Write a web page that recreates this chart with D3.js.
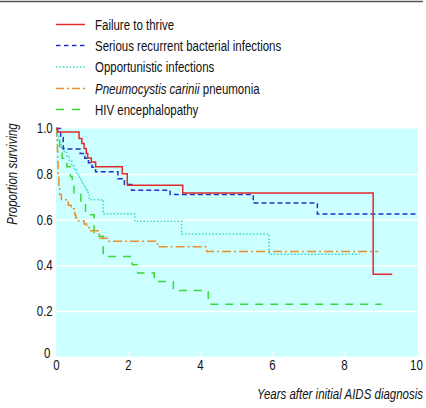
<!DOCTYPE html>
<html>
<head>
<meta charset="utf-8">
<script src="https://cdn.jsdelivr.net/npm/d3@7"></script>
<style>
html,body{margin:0;padding:0;background:#fff;}
svg{display:block;}
text{font-family:"Liberation Sans Narrow","Arial Narrow","Liberation Sans",Arial,sans-serif;font-size:14px;fill:#111;}
</style>
</head>
<body>
<svg id="chart" width="426" height="408"></svg>
<script>
// Series names (legend order)
const seriesNames = ["Failure to thrive","Serious recurrent bacterial infections","Opportunistic infections","Pneumocystis carinii pneumonia","HIV encephalopathy"];
// Kaplan-Meier steps: [time (years), survival after step]
const failureToThrive = [[0,1.0],[0.05,0.985],[0.64,0.956],[0.72,0.934],[0.78,0.912],[0.84,0.89],[0.88,0.871],[0.98,0.853],[1.1,0.832],[1.84,0.802],[1.98,0.751],[3.52,0.717],[8.81,0.361]];
const failureEnd = 9.34;
const bacterial = [[0,1.0],[0.13,0.96],[0.2,0.91],[0.67,0.89],[0.8,0.87],[0.9,0.85],[1.0,0.83],[1.1,0.81],[1.72,0.78],[1.9,0.754],[2.1,0.729],[3.17,0.71],[5.48,0.673],[7.26,0.625]];
const bacterialEnd = 10;
const opportunistic = [[0,1.0],[0.03,0.97],[0.08,0.95],[0.12,0.93],[0.16,0.915],[0.23,0.895],[0.3,0.875],[0.37,0.856],[0.44,0.836],[0.51,0.817],[0.58,0.797],[0.65,0.778],[0.72,0.758],[0.79,0.739],[0.86,0.72],[0.92,0.688],[1.31,0.626],[2.19,0.593],[3.49,0.537],[5.92,0.449]];
const opportunisticEnd = 8.44;
const pneumocystis = [[0,1.0],[0.02,0.95],[0.04,0.9],[0.05,0.85],[0.06,0.8],[0.08,0.75],[0.1,0.71],[0.15,0.688],[0.34,0.663],[0.42,0.648],[0.52,0.622],[0.55,0.607],[0.62,0.595],[0.78,0.581],[0.85,0.566],[0.92,0.552],[1.2,0.519],[1.43,0.505],[2.82,0.481],[4.19,0.461]];
const pneumocystisEnd = 8.95;
const encephalopathy = [[0,1.0],[0.03,0.96],[0.1,0.92],[0.17,0.87],[0.3,0.832],[0.4,0.79],[0.45,0.75],[0.5,0.71],[0.69,0.673],[0.82,0.622],[1.06,0.527],[1.31,0.439],[2.12,0.402],[2.27,0.366],[2.73,0.329],[3.26,0.289],[4.23,0.229]];
const encephalopathyEnd = 9.05;
const xTicks = [0,2,4,6,8,10];
const yTicks = [0,0.2,0.4,0.6,0.8,1.0];
const yTickLabels = ["0","0.2","0.4","0.6","0.8","1.0"];

const colors = ["#e02a2e","#2233c8","#3ddccc","#e8902e","#3ad83a"];
const dashes = ["none","5,3","1.6,1.8","9,3,2,3","8,7"];
const legendDashes = ["none","4.5,3.5","1.6,1.8","8,3,2,3","8,8"];
const SX = 0.82; // horizontal condensing of the text face

const svg = d3.select("#chart");
const x = d3.scaleLinear().domain([0,10]).range([56,416]);
const y = d3.scaleLinear().domain([0,1]).range([356.5,128.5]);

// top rule
svg.append("line").attr("x1",0).attr("x2",423).attr("y1",1.5).attr("y2",1.5)
  .attr("stroke","#555").attr("stroke-width",1.5);

// plot background
svg.append("rect").attr("x",x(0)).attr("y",y(1)).attr("width",418-x(0)).attr("height",y(0)-y(1))
  .attr("fill","#ccffff");

// gridlines
const grid = svg.append("g").attr("transform",`translate(${x(0)},0)`)
  .call(d3.axisLeft(y).tickValues([0.2,0.4,0.6,0.8]).tickSize(-(418-x(0))).tickFormat(""));
grid.select(".domain").remove();
grid.selectAll("line").attr("stroke","#fff").attr("stroke-width",1.5);

// x ticks (white, inside)
const xt = svg.append("g").attr("transform",`translate(0,${y(0)})`)
  .call(d3.axisTop(x).tickValues([2,4,6,8]).tickSize(4).tickFormat(""));
xt.select(".domain").remove();
xt.selectAll("line").attr("stroke","#fff").attr("stroke-width",1);

// x tick labels
const xa = svg.append("g").attr("transform",`translate(0,${y(0)})`)
  .call(d3.axisBottom(x).tickValues(xTicks).tickSize(0).tickPadding(4).tickFormat(d3.format("d")));
xa.select(".domain").remove();
xa.attr("font-family",null).attr("font-size",null);
xa.selectAll("text").attr("fill","#111").attr("transform",`scale(${SX},1)`);

// y tick labels
const ya = svg.append("g").attr("transform",`translate(${x(0)},0)`)
  .call(d3.axisLeft(y).tickValues(yTicks).tickSize(0).tickPadding(4).tickFormat((d,i)=>yTickLabels[i]));
ya.select(".domain").remove();
ya.attr("font-family",null).attr("font-size",null);
ya.selectAll("text").attr("fill","#111").attr("transform",`scale(${SX},1)`);
ya.selectAll(".tick").filter(d=>d===0).select("text").attr("dy","0.05em").attr("x",-7);

// curves
const line = d3.line().x(d=>x(d[0])).y(d=>y(d[1])).curve(d3.curveStepAfter);
const series = [
  [failureToThrive, failureEnd],
  [bacterial, bacterialEnd],
  [opportunistic, opportunisticEnd],
  [pneumocystis, pneumocystisEnd],
  [encephalopathy, encephalopathyEnd]
];
const drawOrder = [4,3,2,1,0];
drawOrder.forEach(i=>{
  const [steps,end] = series[i];
  const pts = steps.concat([[end, steps[steps.length-1][1]]]);
  svg.append("path").datum(pts).attr("d",line)
    .attr("fill","none").attr("stroke",colors[i]).attr("stroke-width",1.5)
    .attr("stroke-dasharray",dashes[i]);
});

// legend
const legendY = [24.5,45.5,67,88.5,109.5];
seriesNames.forEach((name,i)=>{
  svg.append("line").attr("x1",56).attr("x2",85).attr("y1",legendY[i]).attr("y2",legendY[i])
    .attr("stroke",colors[i]).attr("stroke-width",1.5).attr("stroke-dasharray",legendDashes[i]);
  const t = svg.append("text").attr("transform",`translate(95,${legendY[i]+5}) scale(${SX},1)`);
  if(i===3){
    t.append("tspan").attr("font-style","italic").text("Pneumocystis carinii");
    t.append("tspan").text(" pneumonia");
  } else {
    t.text(name);
  }
});

// axis titles
svg.append("text").attr("transform",`translate(17,174) rotate(-90) scale(${SX},1)`)
  .attr("text-anchor","middle").attr("font-style","italic").text("Proportion surviving");
svg.append("text").attr("transform",`translate(423,399) scale(${SX},1)`).attr("text-anchor","end")
  .attr("font-style","italic").text("Years after initial AIDS diagnosis");
</script>
</body>
</html>
